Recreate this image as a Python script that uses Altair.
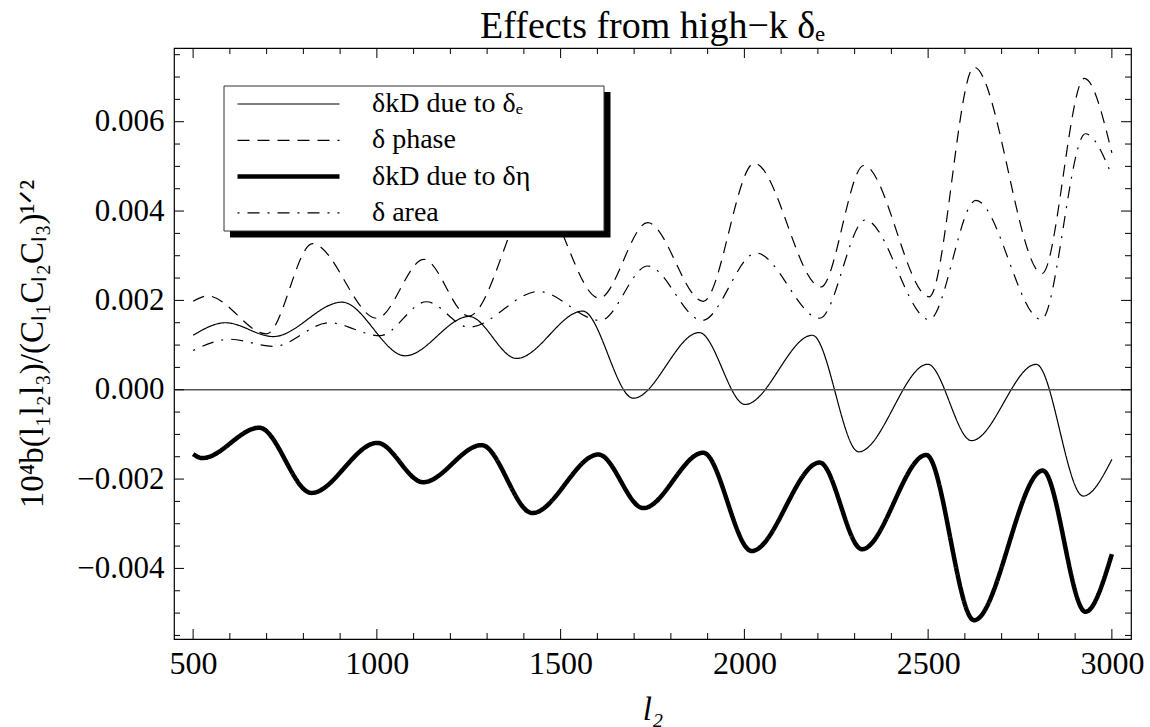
import altair as alt
import pandas as pd

NAMES = ["δkD due to δₑ", "δ phase", "δkD due to δη", "δ area"]

L_THIN = [500, 588, 718, 905, 1077, 1251, 1380, 1560, 1698, 1877, 2002, 2185, 2311, 2499, 2618, 2794, 2922, 3000]
V_THIN = [0.00122, 0.0015, 0.00119, 0.00196, 0.00076, 0.00164, 0.0007, 0.00176, -0.00019, 0.00128,
          -0.00033, 0.00122, -0.00139, 0.00057, -0.00114, 0.00057, -0.00238, -0.00156]

L_PHASE = [500, 540, 700, 825, 1000, 1128, 1250, 1432, 1605, 1737, 1888, 2027, 2208, 2325, 2503, 2625, 2810, 2925, 3000]
V_PHASE = [0.00198, 0.0021, 0.00125, 0.00327, 0.0016, 0.00292, 0.00165, 0.0044, 0.00205, 0.00374,
           0.00198, 0.00507, 0.0023, 0.00502, 0.00208, 0.00722, 0.0026, 0.00697, 0.0053]

L_ETA = [500, 525, 680, 822, 1001, 1126, 1285, 1423, 1603, 1725, 1888, 2020, 2205, 2320, 2495, 2625, 2812, 2928, 3000]
V_ETA = [-0.00144, -0.00153, -0.00085, -0.00231, -0.00119, -0.00207, -0.00124, -0.00276, -0.00145, -0.00265,
         -0.00141, -0.00361, -0.00163, -0.00357, -0.00146, -0.00516, -0.00181, -0.00497, -0.00368]

L_AREA = [500, 600, 720, 870, 1008, 1135, 1250, 1440, 1608, 1737, 1885, 2032, 2205, 2329, 2503, 2630, 2808, 2928, 3000]
V_AREA = [0.00088, 0.00113, 0.00097, 0.0015, 0.00121, 0.00197, 0.0014, 0.0022, 0.00155, 0.00277,
          0.00155, 0.00306, 0.0016, 0.0038, 0.00157, 0.00424, 0.00157, 0.00573, 0.0048]

X_MAJOR = [500, 1000, 1500, 2000, 2500, 3000]
X_MINOR = [v for v in range(500, 3001, 100) if v % 500 != 0]
Y_MAJOR = [-0.004, -0.002, 0.0, 0.002, 0.004, 0.006]
Y_MINOR = [round(-0.0055 + 0.0005 * i, 4) for i in range(27) if (i - 11) % 4 != 0]

DASHES = [[1, 0], [12, 8], [1, 0], [2, 8, 12, 8]]
WIDTHS = [1.2, 1.2, 4.5, 1.2]

rows = []
for name, xs_, ys_ in zip(NAMES, [L_THIN, L_PHASE, L_ETA, L_AREA], [V_THIN, V_PHASE, V_ETA, V_AREA]):
    for a, b in zip(xs_, ys_):
        rows.append({"l2": a, "v": b, "s": name})
df = pd.DataFrame(rows)

W, H = 957, 591
FONT = "Liberation Serif"
xsc = alt.Scale(domain=[448, 3052], nice=False, zero=False)
ysc = alt.Scale(domain=[-0.00558, 0.00765], nice=False, zero=False)

XAX = alt.Axis(values=X_MAJOR, title="l₂", format="d", grid=False, ticks=False, tickSize=0, domain=False,
               labelPadding=9, labelFont=FONT, labelFontSize=32, labelColor="black",
               titleFont=FONT, titleFontWeight="normal", titleColor="black",
               titleX=W / 2, titleY=80, titleBaseline="alphabetic", titleFontStyle="italic", titleFontSize=33)
YAX = alt.Axis(values=Y_MAJOR, format=".3f", title="10⁴b(l₁l₂l₃)/(Cₗ₁Cₗ₂Cₗ₃)¹ᐟ²", grid=False, ticks=False,
               tickSize=0, domain=False, labelPadding=10, labelFont=FONT, labelFontSize=31, labelColor="black",
               titleFont=FONT, titleFontWeight="normal", titleColor="black",
               titleX=-142, titleY=H / 2, titleAngle=270, titleAlign="center", titleBaseline="middle",
               titleFontSize=33)

leg = alt.Legend(title=None, orient="none", legendX=61, legendY=42, padding=0,
                 symbolType="stroke", symbolSize=10404, clipHeight=28, rowPadding=8.3,
                 labelOffset=30, labelFont=FONT, labelFontSize=28, labelColor="black",
                 symbolStrokeColor="black")

lines = alt.Chart(df).mark_line(interpolate="monotone", color="black").encode(
    x=alt.X("l2:Q", scale=xsc, axis=XAX),
    y=alt.Y("v:Q", scale=ysc, axis=YAX),
    strokeDash=alt.StrokeDash("s:N", scale=alt.Scale(type="ordinal", domain=NAMES, range=DASHES), legend=leg),
    strokeWidth=alt.StrokeWidth("s:N", scale=alt.Scale(type="ordinal", domain=NAMES, range=WIDTHS), legend=leg),
)

zero = alt.Chart(pd.DataFrame({"z": [0.0]})).mark_rule(color="#555555", strokeWidth=1.5).encode(
    y=alt.Y("z:Q", scale=ysc, axis=YAX), x=alt.value(0), x2=alt.value(W))

one = pd.DataFrame({"a": [0]})
shadow = alt.Chart(one).mark_rect(color="black").encode(
    x=alt.value(56), x2=alt.value(436.5), y=alt.value(44), y2=alt.value(189.5))
box = alt.Chart(one).mark_rect(fill="white", stroke="#333333", strokeWidth=1).encode(
    x=alt.value(50), x2=alt.value(430), y=alt.value(38), y2=alt.value(183))


def xticks(vals, ln):
    d = pd.DataFrame({"t": vals})
    b = alt.Chart(d).mark_rule(color="black", strokeWidth=1).encode(
        x=alt.X("t:Q", scale=xsc, axis=XAX), y=alt.value(H), y2=alt.value(H - ln))
    t = alt.Chart(d).mark_rule(color="black", strokeWidth=1).encode(
        x=alt.X("t:Q", scale=xsc, axis=XAX), y=alt.value(0), y2=alt.value(ln))
    return [b, t]


def yticks(vals, ln):
    d = pd.DataFrame({"t": vals})
    l = alt.Chart(d).mark_rule(color="black", strokeWidth=1).encode(
        y=alt.Y("t:Q", scale=ysc, axis=YAX), x=alt.value(0), x2=alt.value(ln))
    r = alt.Chart(d).mark_rule(color="black", strokeWidth=1).encode(
        y=alt.Y("t:Q", scale=ysc, axis=YAX), x=alt.value(W), x2=alt.value(W - ln))
    return [l, r]


layers = [lines, zero, shadow, box] + xticks(X_MAJOR, 10) + xticks(X_MINOR, 6) + yticks(Y_MAJOR, 10) + yticks(Y_MINOR, 6)

chart = alt.layer(*layers).properties(
    width=W, height=H,
    title=alt.TitleParams("Effects from high−k δₑ", font=FONT, fontSize=38, fontWeight="normal",
                          color="black", anchor="middle", frame="group", offset=12, dy=40,
                          baseline="alphabetic"),
    autosize=alt.AutoSizeParams(type="none"),
    padding={"left": 174, "top": 48, "right": 19, "bottom": 88},
).configure(background="white").configure_view(stroke="black", strokeWidth=1.2)

chart.save("out.html", embed_options={"renderer": "svg", "actions": False})
